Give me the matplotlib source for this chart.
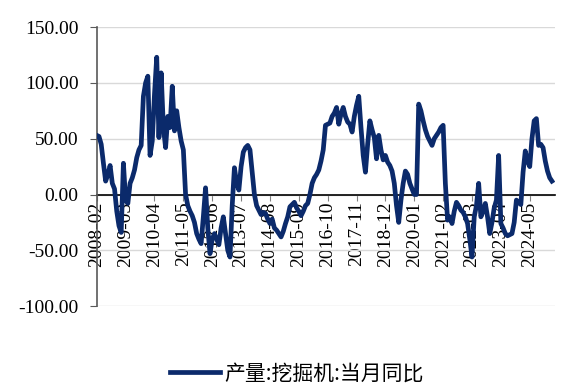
import numpy as np
import pandas as pd
import matplotlib
matplotlib.use("Agg")
from matplotlib import pyplot as plt

# monthly series, 2008-02 .. 2025-03
months = pd.period_range("2008-02", periods=206, freq="M")
yoy = [
    53, 52, 45, 28, 12, 18, 26, 10, 5, -15, -28,          # 2008-02..12
    -34, 28, -5, -8, 10, 15, 22, 33, 40, 44, 88, 100,     # 2009
    106, 35, 48, 90, 123, 51, 109, 60, 42, 70, 60, 97,    # 2010
    57, 75, 60, 48, 40, 0, -10, -15, -19, -25, -35, -40,  # 2011
    -44, -20, 6, -30, -53, -40, -35, -40, -45, -30, -20, -35,  # 2012
    -50, -56, -10, 24, 10, 4, 25, 38, 42, 44, 40, 20,     # 2013
    0, -10, -14, -18, -16, -17, -22, -26, -22, -30, -32, -35,  # 2014
    -38, -33, -26, -20, -11, -9, -7, -12, -15, -19, -15, -10,  # 2015
    -8, 0, 10, 15, 18, 22, 30, 40, 62, 63, 64, 70,        # 2016
    73, 78, 63, 72, 78, 70, 65, 63, 56, 70, 80, 88,       # 2017
    60, 35, 20, 45, 66, 58, 51, 32, 53, 40, 31, 35,       # 2018
    29, 26, 21, 10, -10, -25, -5, 10, 21, 18, 10, 5,      # 2019
    0, 0, 81, 75, 66, 58, 52, 48, 44, 50, 53, 56,         # 2020
    60, 62, 10, -23, -20, -26, -15, -7, -10, -14, -16, -20,  # 2021
    -26, -40, -56, -20, -10, 10, -20, -15, -8, -20, -35, -25,  # 2022
    -12, -5, 35, -26, -30, -35, -37, -36, -35, -25, -5, -7,  # 2023
    -9, 20, 39, 30, 25, 50, 66, 68, 44, 45, 42, 30,       # 2024
    21, 15, 12,                                           # 2025-01..03
]
label_step = 13
series_name = "产量:挖掘机:当月同比"
yticks = [-100, -50, 0, 50, 100, 150]

x = np.arange(len(yoy))

fig = plt.figure(figsize=(5.76, 3.87), dpi=100)
ax = fig.add_axes([0.168, 0.209, 0.796, 0.721])

ax.plot(x, yoy, color="#0b2a6b", lw=3.4, solid_joinstyle="round",
        label=series_name, zorder=3)

ax.set_ylim(-100, 150)
ax.set_xlim(0, 206.5)
ax.set_yticks(yticks)
ax.set_yticklabels(["%.2f" % v for v in yticks])
ax.yaxis.grid(True, color="#d9d9d9", lw=1)
ax.set_axisbelow(True)

# category axis sits on the zero line
ax.spines["bottom"].set_position(("data", 0))
ax.spines["bottom"].set_color("black")
ax.spines["bottom"].set_linewidth(1.2)
ax.spines["bottom"].set_zorder(2)
ax.spines["top"].set_visible(False)
ax.spines["right"].set_visible(False)
ax.spines["left"].set_color("#595959")
ax.spines["left"].set_linewidth(1.2)

ticks = x[::label_step]
ax.set_xticks(ticks)
ax.set_xticklabels([months[i].strftime("%Y-%m") for i in ticks],
                   rotation=90, family="Liberation Serif", fontsize=14)
ax.tick_params(axis="x", direction="out", length=4, pad=1, color="#808080")
ax.tick_params(axis="y", direction="out", length=5, pad=8, color="#595959",
               labelsize=14)
for t in ax.get_yticklabels():
    t.set_family("Liberation Serif")

fig.legend(loc="center", bbox_to_anchor=(0.515, 0.035), frameon=False,
           prop={"family": ["Noto Sans CJK SC", "DejaVu Sans"], "size": 15},
           handlelength=2.4, handletextpad=0.2)

fig.savefig("out.png", dpi=100)
